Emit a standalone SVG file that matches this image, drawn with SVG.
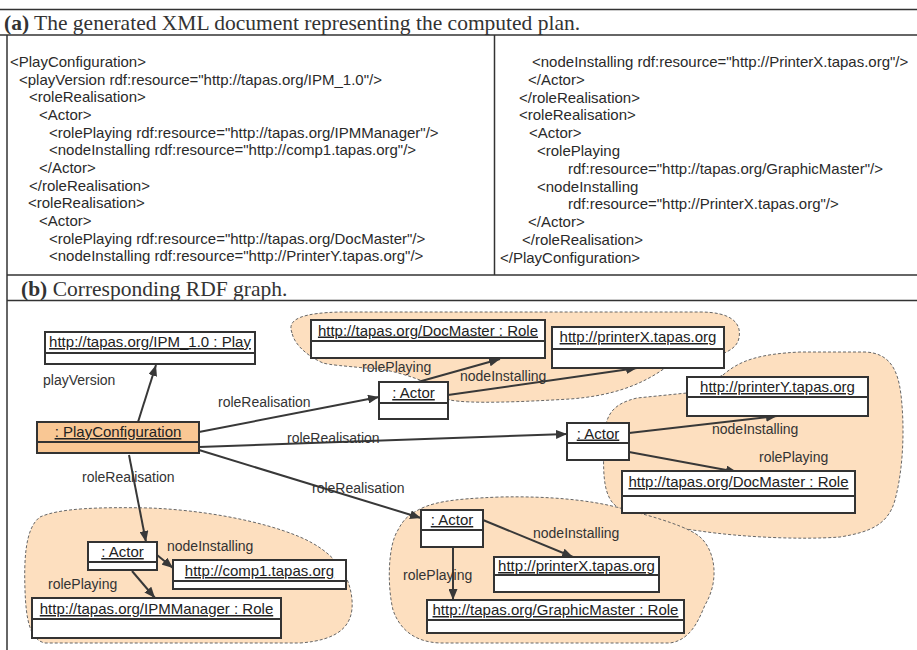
<svg xmlns="http://www.w3.org/2000/svg" width="917" height="650" viewBox="0 0 917 650">
  <style>
    .frame { stroke: #333; stroke-width: 1.5; fill: none; }
    .title { font-family: "Liberation Serif", "Times New Roman", serif; font-size: 21.5px; fill: #333; }
    .title .b { font-weight: bold; }
    .xml { font-family: "Liberation Sans", Arial, sans-serif; font-size: 15px; fill: #2a2a2a; white-space: pre; }
    .blob { fill: #FDDFBF; stroke: #666; stroke-width: 1; stroke-dasharray: 3 2; }
    .box { fill: #fff; stroke: #333; stroke-width: 2; }
    .box.hl { fill: #F9C794; }
    .div { stroke: #333; stroke-width: 2; }
    .name { font-family: "Liberation Sans", Arial, sans-serif; font-size: 15px; fill: #222; text-anchor: middle; text-decoration: underline; }
    .edge { stroke: #383838; stroke-width: 2; fill: none; marker-end: url(#arrow); }
    .lbl { font-family: "Liberation Sans", Arial, sans-serif; font-size: 14px; fill: #333; }
  </style>
  <defs>
    <marker id="arrow" markerUnits="userSpaceOnUse" markerWidth="11" markerHeight="9" refX="11" refY="4.5" orient="auto">
      <path d="M0,0 L11,4.5 L0,9 z" fill="#383838"/>
    </marker>
  </defs>

  <rect width="917" height="650" fill="#fff"/>

  <!-- table frame -->
  <g id="frame">
    <line class="frame" x1="0" y1="9.5" x2="917" y2="9.5"/>
    <line class="frame" x1="0" y1="35" x2="917" y2="35"/>
    <line class="frame" x1="7" y1="35" x2="7" y2="650"/>
    <line class="frame" x1="494.5" y1="35" x2="494.5" y2="275"/>
    <line class="frame" x1="7" y1="275" x2="917" y2="275"/>
    <line class="frame" x1="7" y1="300.5" x2="917" y2="300.5"/>
  </g>

  <text class="title" x="4" y="30"><tspan class="b">(a)</tspan> The generated XML document representing the computed plan.</text>
  <text class="title" x="21" y="296"><tspan class="b">(b)</tspan> Corresponding RDF graph.</text>

  <!-- XML listing, left column -->
  <g id="xml-left" class="xml">
    <text x="10" y="67">&lt;PlayConfiguration&gt;</text>
    <text x="19" y="84.7">&lt;playVersion rdf:resource="http://tapas.org/IPM_1.0"/&gt;</text>
    <text x="29" y="102.3">&lt;roleRealisation&gt;</text>
    <text x="39" y="120">&lt;Actor&gt;</text>
    <text x="49" y="137.6">&lt;rolePlaying rdf:resource="http://tapas.org/IPMManager"/&gt;</text>
    <text x="49" y="155.3">&lt;nodeInstalling rdf:resource="http://comp1.tapas.org"/&gt;</text>
    <text x="39" y="172.9">&lt;/Actor&gt;</text>
    <text x="29" y="190.6">&lt;/roleRealisation&gt;</text>
    <text x="28" y="208.2">&lt;roleRealisation&gt;</text>
    <text x="39" y="225.9">&lt;Actor&gt;</text>
    <text x="49" y="243.5">&lt;rolePlaying rdf:resource="http://tapas.org/DocMaster"/&gt;</text>
    <text x="49" y="261.2">&lt;nodeInstalling rdf:resource="http://PrinterY.tapas.org"/&gt;</text>
  </g>

  <!-- XML listing, right column -->
  <g id="xml-right" class="xml">
    <text x="532" y="67">&lt;nodeInstalling rdf:resource="http://PrinterX.tapas.org"/&gt;</text>
    <text x="528" y="84.8">&lt;/Actor&gt;</text>
    <text x="519" y="102.6">&lt;/roleRealisation&gt;</text>
    <text x="519" y="120.4">&lt;roleRealisation&gt;</text>
    <text x="529" y="138.2">&lt;Actor&gt;</text>
    <text x="537" y="156">&lt;rolePlaying</text>
    <text x="568" y="173.8">rdf:resource="http://tapas.org/GraphicMaster"/&gt;</text>
    <text x="537" y="191.6">&lt;nodeInstalling</text>
    <text x="568" y="209.4">rdf:resource="http://PrinterX.tapas.org"/&gt;</text>
    <text x="528" y="227.2">&lt;/Actor&gt;</text>
    <text x="522" y="245">&lt;/roleRealisation&gt;</text>
    <text x="500" y="262.8">&lt;/PlayConfiguration&gt;</text>
  </g>

  <!-- actor groupings -->
  <g id="groups">
    <path class="blob" d="M292,333 C286,318 305,313 340,312 L700,312 C730,312 742,322 739,338 C736,354 712,358 665,368 C640,386 610,396 570,399 C520,402 470,404 450,400 L425,382 C400,372 380,368 365,368 C345,366 330,365 323,363 C305,355 294,343 292,333 Z"/>
    <path class="blob" d="M723,375 C740,360 760,354 800,352 L865,352 C890,353 898,370 901,395 C905,430 903,470 895,500 C888,525 870,532 840,537 C800,540 740,537 700,531 C660,526 625,518 612,502 C603,490 603,470 604,440 C605,415 612,404 637,398 L687,393 Z"/>
    <path class="blob" d="M413,513 C430,502 450,499 500,497 C550,496 590,500 620,508 C660,518 690,528 700,537 C715,550 720,580 705,605 C698,622 690,640 670,643 L440,643 C415,642 400,630 393,610 C387,585 388,545 398,530 C403,520 408,516 413,513 Z"/>
    <path class="blob" d="M40,517 C60,508 100,507 150,508 C200,510 260,520 300,537 C335,552 350,575 352,600 C354,625 340,640 300,643 L45,643 C30,640 26,620 25,590 C24,560 25,528 40,517 Z"/>
  </g>

  <!-- connectors -->
  <g id="connectors">
    <line class="edge" x1="138" y1="422" x2="156" y2="365"/>
    <line class="edge" x1="199" y1="432" x2="379" y2="397"/>
    <line class="edge" x1="199" y1="447" x2="567" y2="434"/>
    <line class="edge" x1="199" y1="450" x2="421" y2="518"/>
    <line class="edge" x1="129" y1="455" x2="146" y2="542"/>
    <line class="edge" x1="418" y1="382" x2="500" y2="359"/>
    <line class="edge" x1="448" y1="395" x2="637" y2="368"/>
    <line class="edge" x1="629" y1="433" x2="777" y2="416"/>
    <line class="edge" x1="629" y1="452" x2="737" y2="472"/>
    <line class="edge" x1="157" y1="555" x2="173" y2="568"/>
    <line class="edge" x1="132" y1="571" x2="155" y2="598"/>
    <line class="edge" x1="483" y1="520" x2="573" y2="557"/>
    <line class="edge" x1="453" y1="547" x2="453" y2="600"/>
  </g>

  <!-- connector labels -->
  <g id="labels" class="lbl">
    <text x="43" y="384.5">playVersion</text>
    <text x="218" y="406.5">roleRealisation</text>
    <text x="287" y="442.5">roleRealisation</text>
    <text x="312" y="493">roleRealisation</text>
    <text x="82" y="482">roleRealisation</text>
    <text x="362" y="372">rolePlaying</text>
    <text x="460" y="381">nodeInstalling</text>
    <text x="712" y="434">nodeInstalling</text>
    <text x="759" y="461.5">rolePlaying</text>
    <text x="167" y="550.5">nodeInstalling</text>
    <text x="48" y="589">rolePlaying</text>
    <text x="533" y="538">nodeInstalling</text>
    <text x="403" y="579.5">rolePlaying</text>
  </g>

  <!-- nodes -->
  <g id="n-play">
    <rect class="box" x="45" y="332" width="210" height="32"/>
    <line class="div" x1="45" y1="353" x2="255" y2="353"/>
    <text class="name" x="150" y="347">http://tapas.org/IPM_1.0 : Play</text>
  </g>
  <g id="n-playconfig">
    <rect class="box hl" x="37" y="422" width="162" height="31"/>
    <line class="div" x1="37" y1="442" x2="199" y2="442"/>
    <text class="name" x="118" y="437">: PlayConfiguration</text>
  </g>
  <g id="n-actor1">
    <rect class="box" x="379" y="382" width="69" height="37"/>
    <line class="div" x1="379" y1="403" x2="448" y2="403"/>
    <text class="name" x="413.5" y="398">: Actor</text>
  </g>
  <g id="n-docmaster1">
    <rect class="box" x="311" y="320" width="234" height="38"/>
    <line class="div" x1="311" y1="341" x2="545" y2="341"/>
    <text class="name" x="428" y="335.5">http://tapas.org/DocMaster : Role</text>
  </g>
  <g id="n-printerx1">
    <rect class="box" x="552" y="327" width="172" height="41"/>
    <line class="div" x1="552" y1="349" x2="724" y2="349"/>
    <text class="name" x="638" y="342">http://printerX.tapas.org</text>
  </g>
  <g id="n-printery">
    <rect class="box" x="687" y="377" width="181" height="39"/>
    <line class="div" x1="687" y1="397" x2="868" y2="397"/>
    <text class="name" x="777.5" y="392">http://printerY.tapas.org</text>
  </g>
  <g id="n-actor2">
    <rect class="box" x="567" y="423" width="62" height="37"/>
    <line class="div" x1="567" y1="443" x2="629" y2="443"/>
    <text class="name" x="598" y="438.5">: Actor</text>
  </g>
  <g id="n-docmaster2">
    <rect class="box" x="622" y="471" width="233" height="42"/>
    <line class="div" x1="622" y1="496" x2="855" y2="496"/>
    <text class="name" x="738.5" y="487">http://tapas.org/DocMaster : Role</text>
  </g>
  <g id="n-actor3">
    <rect class="box" x="88" y="542" width="69" height="28"/>
    <line class="div" x1="88" y1="562" x2="157" y2="562"/>
    <text class="name" x="122.5" y="557">: Actor</text>
  </g>
  <g id="n-comp1">
    <rect class="box" x="173" y="560" width="173" height="29"/>
    <line class="div" x1="173" y1="581" x2="346" y2="581"/>
    <text class="name" x="259.5" y="576">http://comp1.tapas.org</text>
  </g>
  <g id="n-ipmmanager">
    <rect class="box" x="32" y="598" width="249" height="40"/>
    <line class="div" x1="32" y1="619" x2="281" y2="619"/>
    <text class="name" x="156.5" y="614">http://tapas.org/IPMManager : Role</text>
  </g>
  <g id="n-actor4">
    <rect class="box" x="421" y="510" width="62" height="37"/>
    <line class="div" x1="421" y1="530" x2="483" y2="530"/>
    <text class="name" x="452" y="525">: Actor</text>
  </g>
  <g id="n-printerx2">
    <rect class="box" x="494" y="557" width="165" height="35"/>
    <line class="div" x1="494" y1="575" x2="659" y2="575"/>
    <text class="name" x="576.5" y="571">http://printerX.tapas.org</text>
  </g>
  <g id="n-graphicmaster">
    <rect class="box" x="427" y="600" width="257" height="33"/>
    <line class="div" x1="427" y1="620" x2="684" y2="620"/>
    <text class="name" x="555.5" y="615">http://tapas.org/GraphicMaster : Role</text>
  </g>
</svg>
